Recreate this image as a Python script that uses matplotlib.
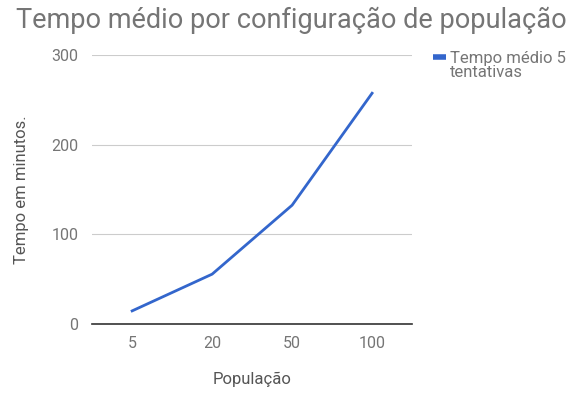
import matplotlib.pyplot as plt

# dados
populacao = ['5', '20', '50', '100']
tempo_medio = [14.5, 55.5, 132.5, 257.5]
yticks = [0, 100, 200, 300]

plt.rcParams['font.family'] = ['Roboto', 'DejaVu Sans']

fig = plt.figure(figsize=(5.87, 3.94), dpi=100)
ax = fig.add_axes([0.157, 0.178, 0.545, 0.682])

x = range(len(populacao))
ax.plot(x, tempo_medio, color='#3366cc', linewidth=2)

ax.set_xlim(-0.5, len(populacao) - 0.5)
ax.set_ylim(0, 300)
ax.set_xticks(list(x))
ax.set_xticklabels(populacao)
ax.set_yticks(yticks)

for s in ['top', 'right', 'left']:
    ax.spines[s].set_visible(False)
ax.spines['bottom'].set_color('#333333')
ax.spines['bottom'].set_linewidth(1.2)
ax.grid(axis='y', color='#cccccc', linewidth=0.8)
ax.set_axisbelow(True)
ax.tick_params(axis='both', length=0, labelsize=11.5, labelcolor='#757575')
ax.tick_params(axis='x', pad=9)
ax.tick_params(axis='y', pad=10)

ax.set_xlabel('População', fontsize=12, color='#555555', labelpad=15)
ax.set_ylabel('Tempo em minutos.', fontsize=12, color='#555555', labelpad=16)

fig.text(0.496, 0.948, 'Tempo médio por configuração de população',
         ha='center', va='center', fontsize=19.5, color='#757575')

# legenda
fig.lines.append(plt.Line2D([0.738, 0.760], [0.855, 0.855], transform=fig.transFigure,
                            color='#3366cc', linewidth=4, solid_capstyle='butt'))
fig.text(0.767, 0.87, 'Tempo médio 5\ntentativas', ha='left', va='top',
         fontsize=12, color='#757575', linespacing=0.9)

fig.savefig('out.png', dpi=100)
